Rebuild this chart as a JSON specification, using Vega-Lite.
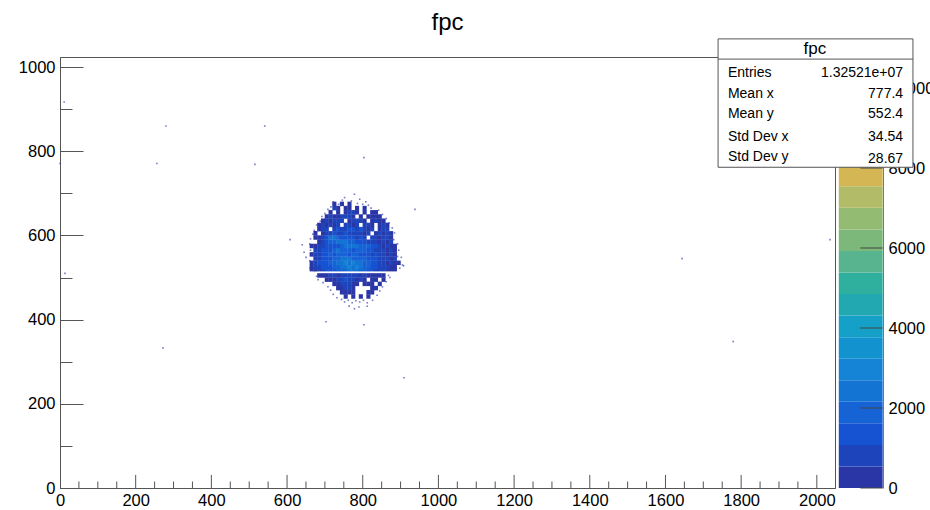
{"$schema":"https://vega.github.io/schema/vega-lite/v6.json","width":775,"height":431,"autosize":"none","padding":{"left":60,"top":57,"right":95,"bottom":22},"background":"white","config":{"font":"Liberation Sans","view":{"stroke":"#555555","strokeWidth":1}},"title":{"text":"fpc","fontSize":24,"font":"Liberation Sans","fontWeight":"normal","anchor":"middle","offset":3,"color":"#000000"},"resolve":{"scale":{"y":"independent"},"axis":{"x":"independent"}},"layer":[{"layer":[{"data":{"values":[
{"x":675,"y":520,"c":300},{"x":685,"y":520,"c":800},{"x":695,"y":520,"c":800},{"x":705,"y":520,"c":1300},{"x":715,"y":520,"c":1300},{"x":725,"y":520,"c":1300},{"x":735,"y":520,"c":1900},{"x":745,"y":520,"c":1900},{"x":755,"y":520,"c":1900},{"x":765,"y":520,"c":2400},{"x":775,"y":520,"c":2400},{"x":785,"y":520,"c":2400},{"x":795,"y":520,"c":1900},{"x":805,"y":520,"c":1900},{"x":815,"y":520,"c":1300},{"x":825,"y":520,"c":1300},{"x":835,"y":520,"c":800},{"x":845,"y":520,"c":800},{"x":855,"y":520,"c":800},{"x":865,"y":520,"c":300},{"x":875,"y":520,"c":300},{"x":665,"y":520,"c":300},{"x":885,"y":520,"c":300},
{"x":665,"y":525,"c":300},{"x":675,"y":525,"c":800},{"x":685,"y":525,"c":800},{"x":695,"y":525,"c":1300},{"x":705,"y":525,"c":1300},{"x":715,"y":525,"c":1300},{"x":725,"y":525,"c":1900},{"x":735,"y":525,"c":1900},{"x":745,"y":525,"c":2400},{"x":755,"y":525,"c":2400},{"x":765,"y":525,"c":2900},{"x":775,"y":525,"c":2400},{"x":785,"y":525,"c":2900},{"x":795,"y":525,"c":2400},{"x":805,"y":525,"c":1900},{"x":815,"y":525,"c":1900},{"x":825,"y":525,"c":1300},{"x":835,"y":525,"c":1300},{"x":845,"y":525,"c":800},{"x":855,"y":525,"c":800},{"x":865,"y":525,"c":800},{"x":875,"y":525,"c":300},{"x":885,"y":525,"c":300},
{"x":665,"y":535,"c":300},{"x":675,"y":535,"c":800},{"x":685,"y":535,"c":1300},{"x":695,"y":535,"c":1300},{"x":705,"y":535,"c":1300},{"x":715,"y":535,"c":1900},{"x":725,"y":535,"c":1900},{"x":735,"y":535,"c":2400},{"x":745,"y":535,"c":2400},{"x":755,"y":535,"c":2900},{"x":765,"y":535,"c":2400},{"x":775,"y":535,"c":2900},{"x":785,"y":535,"c":2400},{"x":795,"y":535,"c":2400},{"x":805,"y":535,"c":1900},{"x":815,"y":535,"c":1900},{"x":825,"y":535,"c":1300},{"x":835,"y":535,"c":1300},{"x":845,"y":535,"c":800},{"x":855,"y":535,"c":800},{"x":865,"y":535,"c":300},{"x":875,"y":535,"c":800},{"x":885,"y":535,"c":300},{"x":895,"y":535,"c":300},
{"x":675,"y":545,"c":800},{"x":685,"y":545,"c":800},{"x":695,"y":545,"c":1300},{"x":705,"y":545,"c":1300},{"x":715,"y":545,"c":1300},{"x":725,"y":545,"c":1900},{"x":735,"y":545,"c":1900},{"x":745,"y":545,"c":2400},{"x":755,"y":545,"c":2400},{"x":765,"y":545,"c":2400},{"x":775,"y":545,"c":1900},{"x":785,"y":545,"c":1900},{"x":795,"y":545,"c":1900},{"x":805,"y":545,"c":1900},{"x":815,"y":545,"c":1300},{"x":825,"y":545,"c":1300},{"x":835,"y":545,"c":1300},{"x":845,"y":545,"c":800},{"x":855,"y":545,"c":800},{"x":865,"y":545,"c":800},{"x":875,"y":545,"c":300},{"x":885,"y":545,"c":800},
{"x":665,"y":555,"c":300},{"x":675,"y":555,"c":800},{"x":685,"y":555,"c":800},{"x":695,"y":555,"c":1300},{"x":705,"y":555,"c":1300},{"x":715,"y":555,"c":1900},{"x":725,"y":555,"c":1300},{"x":735,"y":555,"c":1900},{"x":745,"y":555,"c":1900},{"x":755,"y":555,"c":1900},{"x":765,"y":555,"c":1300},{"x":775,"y":555,"c":1900},{"x":785,"y":555,"c":1900},{"x":795,"y":555,"c":1300},{"x":805,"y":555,"c":1300},{"x":815,"y":555,"c":1300},{"x":825,"y":555,"c":800},{"x":835,"y":555,"c":1300},{"x":845,"y":555,"c":800},{"x":855,"y":555,"c":800},{"x":865,"y":555,"c":300},{"x":875,"y":555,"c":800},{"x":885,"y":555,"c":300},
{"x":675,"y":565,"c":800},{"x":685,"y":565,"c":800},{"x":695,"y":565,"c":1300},{"x":705,"y":565,"c":1300},{"x":715,"y":565,"c":1300},{"x":725,"y":565,"c":1900},{"x":735,"y":565,"c":2400},{"x":745,"y":565,"c":1900},{"x":755,"y":565,"c":1900},{"x":765,"y":565,"c":1900},{"x":775,"y":565,"c":1300},{"x":785,"y":565,"c":1900},{"x":795,"y":565,"c":1900},{"x":805,"y":565,"c":1900},{"x":815,"y":565,"c":1300},{"x":825,"y":565,"c":1300},{"x":835,"y":565,"c":800},{"x":845,"y":565,"c":800},{"x":855,"y":565,"c":800},{"x":865,"y":565,"c":300},{"x":875,"y":565,"c":800},{"x":885,"y":565,"c":300},
{"x":665,"y":575,"c":300},{"x":675,"y":575,"c":300},{"x":685,"y":575,"c":800},{"x":695,"y":575,"c":800},{"x":705,"y":575,"c":1300},{"x":715,"y":575,"c":1300},{"x":725,"y":575,"c":1300},{"x":735,"y":575,"c":1300},{"x":745,"y":575,"c":1900},{"x":755,"y":575,"c":2400},{"x":765,"y":575,"c":2400},{"x":775,"y":575,"c":2400},{"x":785,"y":575,"c":2400},{"x":795,"y":575,"c":1900},{"x":805,"y":575,"c":1900},{"x":815,"y":575,"c":1900},{"x":825,"y":575,"c":1300},{"x":835,"y":575,"c":1300},{"x":845,"y":575,"c":800},{"x":855,"y":575,"c":300},{"x":865,"y":575,"c":800},{"x":875,"y":575,"c":300},{"x":885,"y":575,"c":300},
{"x":685,"y":585,"c":300},{"x":695,"y":585,"c":800},{"x":705,"y":585,"c":1300},{"x":715,"y":585,"c":1900},{"x":725,"y":585,"c":1900},{"x":735,"y":585,"c":2400},{"x":745,"y":585,"c":2400},{"x":755,"y":585,"c":2400},{"x":765,"y":585,"c":1900},{"x":775,"y":585,"c":1900},{"x":785,"y":585,"c":1300},{"x":795,"y":585,"c":1300},{"x":805,"y":585,"c":1300},{"x":815,"y":585,"c":800},{"x":825,"y":585,"c":800},{"x":835,"y":585,"c":800},{"x":845,"y":585,"c":300},{"x":855,"y":585,"c":800},{"x":865,"y":585,"c":300},{"x":875,"y":585,"c":800},
{"x":675,"y":595,"c":300},{"x":685,"y":595,"c":300},{"x":695,"y":595,"c":800},{"x":705,"y":595,"c":1300},{"x":715,"y":595,"c":2400},{"x":725,"y":595,"c":2400},{"x":735,"y":595,"c":1900},{"x":745,"y":595,"c":1300},{"x":755,"y":595,"c":1300},{"x":765,"y":595,"c":1300},{"x":775,"y":595,"c":1300},{"x":785,"y":595,"c":800},{"x":795,"y":595,"c":1300},{"x":805,"y":595,"c":800},{"x":825,"y":595,"c":800},{"x":835,"y":595,"c":800},{"x":845,"y":595,"c":300},{"x":855,"y":595,"c":800},{"x":865,"y":595,"c":800},{"x":875,"y":595,"c":300},
{"x":675,"y":605,"c":300},{"x":695,"y":605,"c":300},{"x":705,"y":605,"c":800},{"x":715,"y":605,"c":800},{"x":725,"y":605,"c":1300},{"x":735,"y":605,"c":800},{"x":745,"y":605,"c":800},{"x":755,"y":605,"c":1300},{"x":765,"y":605,"c":800},{"x":775,"y":605,"c":800},{"x":785,"y":605,"c":800},{"x":795,"y":605,"c":800},{"x":805,"y":605,"c":300},{"x":815,"y":605,"c":800},{"x":835,"y":605,"c":300},{"x":845,"y":605,"c":800},{"x":855,"y":605,"c":300},{"x":865,"y":605,"c":800},{"x":875,"y":605,"c":300},
{"x":685,"y":615,"c":300},{"x":695,"y":615,"c":800},{"x":705,"y":615,"c":800},{"x":725,"y":615,"c":800},{"x":735,"y":615,"c":1300},{"x":745,"y":615,"c":800},{"x":755,"y":615,"c":800},{"x":765,"y":615,"c":1300},{"x":775,"y":615,"c":1300},{"x":785,"y":615,"c":800},{"x":795,"y":615,"c":1300},{"x":805,"y":615,"c":800},{"x":815,"y":615,"c":300},{"x":825,"y":615,"c":800},{"x":845,"y":615,"c":300},{"x":855,"y":615,"c":800},{"x":865,"y":615,"c":800},
{"x":685,"y":625,"c":300},{"x":695,"y":625,"c":800},{"x":705,"y":625,"c":300},{"x":715,"y":625,"c":800},{"x":725,"y":625,"c":300},{"x":735,"y":625,"c":800},{"x":755,"y":625,"c":800},{"x":765,"y":625,"c":800},{"x":775,"y":625,"c":300},{"x":785,"y":625,"c":800},{"x":805,"y":625,"c":800},{"x":815,"y":625,"c":800},{"x":825,"y":625,"c":300},{"x":845,"y":625,"c":300},{"x":855,"y":625,"c":800},{"x":865,"y":625,"c":300},
{"x":695,"y":635,"c":300},{"x":705,"y":635,"c":800},{"x":715,"y":635,"c":300},{"x":725,"y":635,"c":800},{"x":735,"y":635,"c":800},{"x":745,"y":635,"c":800},{"x":765,"y":635,"c":300},{"x":775,"y":635,"c":800},{"x":785,"y":635,"c":800},{"x":795,"y":635,"c":800},{"x":805,"y":635,"c":300},{"x":825,"y":635,"c":300},{"x":835,"y":635,"c":800},{"x":845,"y":635,"c":300},{"x":855,"y":635,"c":300},
{"x":705,"y":645,"c":300},{"x":715,"y":645,"c":800},{"x":725,"y":645,"c":300},{"x":735,"y":645,"c":300},{"x":745,"y":645,"c":800},{"x":755,"y":645,"c":800},{"x":765,"y":645,"c":800},{"x":775,"y":645,"c":300},{"x":795,"y":645,"c":300},{"x":815,"y":645,"c":300},{"x":825,"y":645,"c":300},{"x":835,"y":645,"c":300},{"x":845,"y":645,"c":300},
{"x":715,"y":655,"c":300},{"x":735,"y":655,"c":300},{"x":755,"y":655,"c":300},{"x":765,"y":655,"c":800},{"x":775,"y":655,"c":800},{"x":785,"y":655,"c":300},{"x":805,"y":655,"c":300},{"x":825,"y":655,"c":300},{"x":835,"y":655,"c":300},
{"x":725,"y":665,"c":800},{"x":735,"y":665,"c":300},{"x":755,"y":665,"c":300},{"x":765,"y":665,"c":300},{"x":785,"y":665,"c":300},{"x":805,"y":665,"c":300},
{"x":725,"y":675,"c":300},{"x":745,"y":675,"c":300},{"x":765,"y":675,"c":300},
{"x":685,"y":505,"c":300},{"x":695,"y":505,"c":300},{"x":705,"y":505,"c":300},{"x":715,"y":505,"c":800},{"x":725,"y":505,"c":800},{"x":735,"y":505,"c":300},{"x":745,"y":505,"c":800},{"x":755,"y":505,"c":800},{"x":765,"y":505,"c":800},{"x":775,"y":505,"c":800},{"x":785,"y":505,"c":800},{"x":795,"y":505,"c":300},{"x":805,"y":505,"c":800},{"x":815,"y":505,"c":300},{"x":825,"y":505,"c":300},{"x":835,"y":505,"c":300},{"x":845,"y":505,"c":300},{"x":855,"y":505,"c":300},
{"x":705,"y":495,"c":300},{"x":715,"y":495,"c":300},{"x":725,"y":495,"c":300},{"x":735,"y":495,"c":800},{"x":745,"y":495,"c":800},{"x":755,"y":495,"c":1300},{"x":765,"y":495,"c":800},{"x":775,"y":495,"c":800},{"x":785,"y":495,"c":300},{"x":795,"y":495,"c":800},{"x":805,"y":495,"c":300},{"x":825,"y":495,"c":300},{"x":835,"y":495,"c":300},{"x":855,"y":495,"c":300},
{"x":725,"y":485,"c":300},{"x":735,"y":485,"c":300},{"x":745,"y":485,"c":800},{"x":755,"y":485,"c":800},{"x":765,"y":485,"c":800},{"x":775,"y":485,"c":300},{"x":785,"y":485,"c":300},{"x":805,"y":485,"c":300},{"x":815,"y":485,"c":300},{"x":825,"y":485,"c":300},{"x":845,"y":485,"c":300},
{"x":735,"y":475,"c":300},{"x":745,"y":475,"c":300},{"x":755,"y":475,"c":800},{"x":765,"y":475,"c":800},{"x":775,"y":475,"c":300},{"x":825,"y":475,"c":300},{"x":835,"y":475,"c":300},
{"x":745,"y":465,"c":300},{"x":755,"y":465,"c":300},{"x":765,"y":465,"c":300},{"x":775,"y":465,"c":300},{"x":815,"y":465,"c":300},{"x":825,"y":465,"c":300},
{"x":755,"y":455,"c":300},{"x":775,"y":455,"c":300},{"x":795,"y":455,"c":300},{"x":815,"y":455,"c":300}
]},"mark":{"type":"rect","width":4.1,"height":4.5},"encoding":{"x":{"field":"x","type":"quantitative","scale":{"domain":[0,2048],"nice":false,"zero":false},"axis":{"title":null,"values":[0,200,400,600,800,1000,1200,1400,1600,1800,2000],"format":"d","labelFontSize":16.5,"labelColor":"#000000","labelOverlap":false,"labelFlush":false,"labelPadding":4,"grid":false,"domainColor":"#555555","ticks":false}},"y":{"field":"y","type":"quantitative","scale":{"domain":[0,1024],"nice":false,"zero":false},"axis":{"title":null,"values":[0,50,100,150,200,250,300,350,400,450,500,550,600,650,700,750,800,850,900,950,1000],"labelExpr":"datum.value % 200 == 0 ? datum.label : ''","format":"d","labelFontSize":16.5,"labelColor":"#000000","labelOverlap":false,"labelFlush":false,"labelPadding":28,"grid":false,"domainColor":"#555555","tickColor":"#555555","tickSize":{"condition":{"test":"datum.value % 200 == 0","value":-23},"value":-12}}},"color":{"field":"c","type":"quantitative","legend":null,"scale":{"type":"quantize","domain":[0,10775],"range":["#2b36a6","#1e44bb","#1653d2","#1663d6","#1474d4","#1583d6","#1392d0","#15a0c8","#22a8b0","#2fb09f","#58b48e","#7bb87a","#93bc72","#b2bb67","#d4b754","#e6bc48","#f0c23e","#f5cb36","#f8d52e","#f9e026"]}}}},
{"data":{"values":[
{"x":660,"y":540},{"x":662,"y":565},{"x":660,"y":580},{"x":662,"y":592},{"x":668,"y":603},{"x":672,"y":612},{"x":678,"y":625},{"x":688,"y":634},{"x":692,"y":645},{"x":700,"y":652},{"x":708,"y":662},{"x":716,"y":668},{"x":722,"y":680},{"x":736,"y":674},{"x":746,"y":684},{"x":752,"y":690},{"x":770,"y":682},{"x":778,"y":698},{"x":786,"y":676},{"x":792,"y":686},{"x":800,"y":674},{"x":808,"y":680},{"x":815,"y":672},{"x":822,"y":665},{"x":842,"y":660},{"x":852,"y":650},{"x":862,"y":640},{"x":870,"y":630},{"x":878,"y":618},{"x":884,"y":606},{"x":882,"y":590},{"x":892,"y":580},{"x":895,"y":565},{"x":892,"y":550},{"x":905,"y":530},{"x":898,"y":522},{"x":908,"y":528},{"x":902,"y":548},{"x":645,"y":560},{"x":640,"y":578},{"x":650,"y":548},{"x":678,"y":503},{"x":682,"y":495},{"x":695,"y":488},{"x":708,"y":478},{"x":715,"y":470},{"x":722,"y":460},{"x":732,"y":452},{"x":744,"y":448},{"x":752,"y":442},{"x":762,"y":446},{"x":772,"y":440},{"x":782,"y":445},{"x":792,"y":442},{"x":802,"y":446},{"x":812,"y":440},{"x":826,"y":446},{"x":838,"y":458},{"x":845,"y":468},{"x":852,"y":478},{"x":862,"y":490},{"x":868,"y":505},{"x":872,"y":500},{"x":764,"y":432},{"x":790,"y":430},{"x":812,"y":432},{"x":778,"y":426},
{"x":256,"y":771},{"x":0,"y":771},{"x":280,"y":860},{"x":541,"y":860},{"x":515,"y":769},{"x":803,"y":785},{"x":272,"y":333},{"x":909,"y":262},{"x":1644,"y":545},{"x":1779,"y":348},{"x":2035,"y":590},{"x":703,"y":395},{"x":803,"y":388},{"x":11,"y":917},{"x":13,"y":510},{"x":938,"y":662},{"x":608,"y":590}
]},"mark":{"type":"rect","width":1.6,"height":1.6,"color":"#2b36a6","opacity":0.65},"encoding":{"x":{"field":"x","type":"quantitative"},"y":{"field":"y","type":"quantitative"}}},
{"data":{"values":[{"v":50,"a":0,"b":15.5},{"v":100,"a":0,"b":15.5},{"v":150,"a":0,"b":15.5},{"v":200,"a":0,"b":31},{"v":250,"a":0,"b":15.5},{"v":300,"a":0,"b":15.5},{"v":350,"a":0,"b":15.5},{"v":400,"a":0,"b":31},{"v":450,"a":0,"b":15.5},{"v":500,"a":0,"b":15.5},{"v":550,"a":0,"b":15.5},{"v":600,"a":0,"b":31},{"v":650,"a":0,"b":15.5},{"v":700,"a":0,"b":15.5},{"v":750,"a":0,"b":15.5},{"v":800,"a":0,"b":31},{"v":850,"a":0,"b":15.5},{"v":900,"a":0,"b":15.5},{"v":950,"a":0,"b":15.5},{"v":1000,"a":0,"b":31},{"v":1050,"a":0,"b":15.5},{"v":1100,"a":0,"b":15.5},{"v":1150,"a":0,"b":15.5},{"v":1200,"a":0,"b":31},{"v":1250,"a":0,"b":15.5},{"v":1300,"a":0,"b":15.5},{"v":1350,"a":0,"b":15.5},{"v":1400,"a":0,"b":31},{"v":1450,"a":0,"b":15.5},{"v":1500,"a":0,"b":15.5},{"v":1550,"a":0,"b":15.5},{"v":1600,"a":0,"b":31},{"v":1650,"a":0,"b":15.5},{"v":1700,"a":0,"b":15.5},{"v":1750,"a":0,"b":15.5},{"v":1800,"a":0,"b":31},{"v":1850,"a":0,"b":15.5},{"v":1900,"a":0,"b":15.5},{"v":1950,"a":0,"b":15.5},{"v":2000,"a":0,"b":31}]},"mark":{"type":"rule","color":"#555555","strokeWidth":1},"encoding":{"x":{"field":"v","type":"quantitative"},"y":{"field":"a","type":"quantitative"},"y2":{"field":"b"}}}]},
{"layer":[{"data":{"values":[
{"c":270,"lo":0,"hi":539,"x0":2058,"x1":2174},{"c":808,"lo":539,"hi":1078,"x0":2058,"x1":2174},{"c":1347,"lo":1078,"hi":1616,"x0":2058,"x1":2174},{"c":1886,"lo":1616,"hi":2155,"x0":2058,"x1":2174},{"c":2424,"lo":2155,"hi":2694,"x0":2058,"x1":2174},{"c":2963,"lo":2694,"hi":3233,"x0":2058,"x1":2174},{"c":3502,"lo":3233,"hi":3771,"x0":2058,"x1":2174},{"c":4041,"lo":3771,"hi":4310,"x0":2058,"x1":2174},{"c":4579,"lo":4310,"hi":4849,"x0":2058,"x1":2174},{"c":5118,"lo":4849,"hi":5388,"x0":2058,"x1":2174},{"c":5657,"lo":5388,"hi":5926,"x0":2058,"x1":2174},{"c":6196,"lo":5926,"hi":6465,"x0":2058,"x1":2174},{"c":6734,"lo":6465,"hi":7004,"x0":2058,"x1":2174},{"c":7273,"lo":7004,"hi":7543,"x0":2058,"x1":2174},{"c":7812,"lo":7543,"hi":8081,"x0":2058,"x1":2174},{"c":8351,"lo":8081,"hi":8620,"x0":2058,"x1":2174},{"c":8889,"lo":8620,"hi":9159,"x0":2058,"x1":2174},{"c":9428,"lo":9159,"hi":9698,"x0":2058,"x1":2174},{"c":9967,"lo":9698,"hi":10236,"x0":2058,"x1":2174},{"c":10506,"lo":10236,"hi":10775,"x0":2058,"x1":2174}
]},"mark":{"type":"rect"},"encoding":{"x":{"field":"x0","type":"quantitative","axis":null},"x2":{"field":"x1"},"y":{"field":"lo","type":"quantitative","scale":{"domain":[0,10775],"nice":false,"zero":false},"axis":{"title":null,"orient":"right","offset":48,"values":[0,2000,4000,6000,8000,10000],"format":"d","labelFontSize":16.5,"labelColor":"#000000","labelPadding":5,"labelOverlap":false,"labelFlush":false,"grid":false,"ticks":false,"domainColor":"#777777"}},"y2":{"field":"hi"},"color":{"field":"c","type":"quantitative","legend":null,"scale":{"type":"quantize","domain":[0,10775],"range":["#2b36a6","#1e44bb","#1653d2","#1663d6","#1474d4","#1583d6","#1392d0","#15a0c8","#22a8b0","#2fb09f","#58b48e","#7bb87a","#93bc72","#b2bb67","#d4b754","#e6bc48","#f0c23e","#f5cb36","#f8d52e","#f9e026"]}}}},
{"data":{"values":[{"v":0,"a":2115,"b":2174},{"v":2000,"a":2115,"b":2174},{"v":4000,"a":2115,"b":2174},{"v":6000,"a":2115,"b":2174},{"v":8000,"a":2115,"b":2174},{"v":10000,"a":2115,"b":2174}]},"mark":{"type":"rule","color":"#444444","strokeWidth":1},"encoding":{"x":{"field":"a","type":"quantitative","axis":null},"x2":{"field":"b"},"y":{"field":"v","type":"quantitative"}}}]},
{"layer":[{"data":{"values":[{"a":1739,"b":2254,"t":1067,"u":762}]},"mark":{"type":"rect","fill":"white","stroke":"#555555","strokeWidth":1},"encoding":{"x":{"field":"a","type":"quantitative","axis":null},"x2":{"field":"b"},"y":{"field":"t","type":"quantitative","scale":{"domain":[0,1024],"nice":false,"zero":false},"axis":null},"y2":{"field":"u"}}},
{"data":{"values":[{"a":1739,"b":2254,"t":1019}]},"mark":{"type":"rule","color":"#555555","strokeWidth":1},"encoding":{"x":{"field":"a","type":"quantitative","axis":null},"x2":{"field":"b"},"y":{"field":"t","type":"quantitative"}}},
{"data":{"values":[{"x":1995,"y":1044,"s":"fpc"}]},"mark":{"type":"text","fontSize":17,"align":"center","baseline":"middle","color":"#000000"},"encoding":{"x":{"field":"x","type":"quantitative","axis":null},"y":{"field":"y","type":"quantitative"},"text":{"field":"s"}}},
{"data":{"values":[{"x":1765,"y":985,"s":"Entries"},{"x":1765,"y":935,"s":"Mean x"},{"x":1765,"y":888,"s":"Mean y"},{"x":1765,"y":833,"s":"Std Dev x"},{"x":1765,"y":786,"s":"Std Dev y"}]},"mark":{"type":"text","fontSize":14,"align":"left","baseline":"middle","color":"#000000"},"encoding":{"x":{"field":"x","type":"quantitative","axis":null},"y":{"field":"y","type":"quantitative"},"text":{"field":"s"}}},
{"data":{"values":[{"x":2228,"y":985,"s":"1.32521e+07"},{"x":2228,"y":935,"s":"777.4"},{"x":2228,"y":888,"s":"552.4"},{"x":2228,"y":833,"s":"34.54"},{"x":2228,"y":782,"s":"28.67"}]},"mark":{"type":"text","fontSize":14,"align":"right","baseline":"middle","color":"#000000"},"encoding":{"x":{"field":"x","type":"quantitative","axis":null},"y":{"field":"y","type":"quantitative"},"text":{"field":"s"}}}]}
]}
